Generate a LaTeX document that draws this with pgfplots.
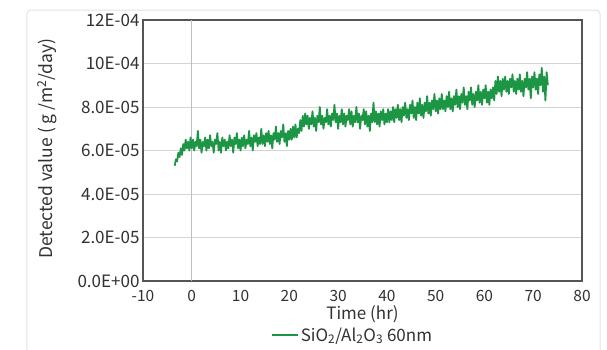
\documentclass[border=0pt]{standalone}
\usepackage{fontspec}
\setmainfont{Noto Sans CJK JP}
\usepackage{graphicx}
\usepackage{pgfplots}
\usepackage{pgfplotstable}
\pgfplotsset{compat=1.18}
\definecolor{series}{RGB}{28,150,68}
\definecolor{framec}{RGB}{85,85,85}
\definecolor{gridc}{RGB}{212,212,212}
\definecolor{txt}{RGB}{50,50,50}

% y in units of 1E-05 g/m2/day
\pgfplotstableread{
x y
-3.5 5.3
-3.25 5.6
-3.0 5.5
-2.75 5.9
-2.5 5.7
-2.25 6.1
-2.0 5.8
-1.75 6.3
-1.5 6.0
-1.25 6.5
-1.0 6.1
-0.75 6.4
-0.5 6.0
-0.25 6.6
0.0 6.1
0.25 6.5
0.5 6.0
0.75 6.4
1.0 6.2
1.25 6.9
1.5 6.1
1.75 6.5
2.0 5.9
2.25 6.4
2.5 6.2
2.75 6.6
3.0 6.0
3.25 6.5
3.5 6.1
3.75 6.7
4.0 6.2
4.25 6.4
4.5 5.9
4.75 6.5
5.0 6.3
5.25 6.8
5.5 6.0
5.75 6.4
6.0 5.9
6.25 6.6
6.5 6.2
6.75 6.5
7.0 6.0
7.25 6.4
7.5 6.1
7.75 6.7
8.0 6.2
8.25 6.5
8.5 5.9
8.75 6.6
9.0 6.3
9.25 6.8
9.5 6.1
9.75 6.5
10.0 6.0
10.25 6.6
10.5 6.2
10.75 6.7
11.0 6.1
11.25 6.5
11.5 6.3
11.75 6.9
12.0 6.2
12.25 6.6
12.5 6.0
12.75 6.7
13.0 6.4
13.25 6.8
13.5 6.2
13.75 6.6
14.0 6.3
14.25 7.0
14.5 6.3
14.75 6.7
15.0 6.2
15.25 6.8
15.5 6.4
15.75 6.9
16.0 6.3
16.25 6.7
16.5 6.1
16.75 6.8
17.0 6.5
17.25 7.1
17.5 6.4
17.75 6.8
18.0 6.3
18.25 6.9
18.5 6.6
18.75 7.2
19.0 6.4
19.25 6.8
19.5 6.2
19.75 6.9
20.0 6.5
20.25 7.0
20.5 6.5
20.75 7.1
21.0 6.6
21.25 7.2
21.5 6.6
21.75 7.0
22.0 6.8
22.25 7.4
22.5 6.9
22.75 7.6
23.0 7.1
23.25 7.7
23.5 7.2
23.75 7.6
24.0 7.0
24.25 7.5
24.5 7.2
24.75 7.8
25.0 7.1
25.25 7.5
25.5 6.9
25.75 7.6
26.0 7.3
26.25 8.0
26.5 7.2
26.75 7.6
27.0 7.0
27.25 7.5
27.5 7.3
27.75 7.9
28.0 7.2
28.25 7.6
28.5 7.1
28.75 7.7
29.0 7.4
29.25 8.1
29.5 7.3
29.75 7.7
30.0 7.0
30.25 7.6
30.5 7.3
30.75 7.9
31.0 7.2
31.25 7.7
31.5 7.1
31.75 7.6
32.0 7.4
32.25 7.9
32.5 7.2
32.75 7.8
33.0 7.1
33.25 7.6
33.5 7.3
33.75 8.0
34.0 7.3
34.25 7.7
34.5 7.0
34.75 7.6
35.0 7.4
35.25 7.9
35.5 7.2
35.75 7.8
36.0 7.1
36.25 7.6
36.5 6.9
36.75 7.7
37.0 7.3
37.25 8.2
37.5 7.3
37.75 7.8
38.0 7.2
38.25 7.7
38.5 7.1
38.75 7.8
39.0 7.4
39.25 7.9
39.5 7.2
39.75 7.7
40.0 7.3
40.25 7.9
40.5 7.3
40.75 7.8
41.0 7.4
41.25 8.0
41.5 7.3
41.75 7.9
42.0 7.5
42.25 8.1
42.5 7.4
42.75 7.9
43.0 7.3
43.25 8.0
43.5 7.6
43.75 8.2
44.0 7.5
44.25 7.9
44.5 7.4
44.75 8.1
45.0 7.7
45.25 8.3
45.5 7.5
45.75 8.0
46.0 7.4
46.25 8.2
46.5 7.7
46.75 8.4
47.0 7.6
47.25 8.1
47.5 7.5
47.75 8.2
48.0 7.8
48.25 8.5
48.5 7.7
48.75 8.2
49.0 7.6
49.25 8.3
49.5 7.9
49.75 8.6
50.0 7.8
50.25 8.3
50.5 7.7
50.75 8.4
51.0 7.9
51.25 8.6
51.5 7.9
51.75 8.3
52.0 7.8
52.25 8.5
52.5 8.0
52.75 8.7
53.0 7.9
53.25 8.4
53.5 7.8
53.75 8.5
54.0 8.1
54.25 8.8
54.5 8.0
54.75 8.5
55.0 7.9
55.25 8.6
55.5 8.2
55.75 8.9
56.0 8.1
56.25 8.5
56.5 7.9
56.75 8.7
57.0 8.3
57.25 8.9
57.5 8.1
57.75 8.6
58.0 8.0
58.25 8.7
58.5 8.3
58.75 9.0
59.0 8.2
59.25 8.7
59.5 8.1
59.75 8.8
60.0 8.4
60.25 9.0
60.5 8.2
60.75 8.7
61.0 8.1
61.25 8.8
61.5 8.4
61.75 8.9
62.0 8.3
62.25 9.2
62.5 8.6
62.75 9.4
63.0 8.7
63.25 9.2
63.5 8.5
63.75 9.3
64.0 8.8
64.25 9.4
64.5 8.7
64.75 9.2
65.0 8.6
65.25 9.3
65.5 8.9
65.75 9.5
66.0 8.7
66.25 9.2
66.5 8.6
66.75 9.3
67.0 8.8
67.25 9.5
67.5 8.7
67.75 9.2
68.0 8.5
68.25 9.3
68.5 8.9
68.75 9.6
69.0 8.8
69.25 9.3
69.5 8.4
69.75 9.4
70.0 8.9
70.25 9.6
70.5 8.8
70.75 9.3
71.0 8.6
71.25 9.5
71.5 9.0
71.75 9.8
72.0 8.7
72.25 9.4
72.5 8.3
72.75 9.6
73.0 9.0
}\datatable

\begin{document}
\begin{tikzpicture}[font=\fontsize{15.5}{18}\selectfont]
\useasboundingbox (-143pt,-68pt) rectangle (464pt,281pt);
\fill[white] (-143pt,-68pt) rectangle (464pt,281pt);
\draw[gray!22, line width=1pt, rounded corners=4pt] (-116pt,-90pt) rectangle (457pt,271pt);
\begin{axis}[
  at={(0pt,0pt)}, anchor=south west,
  width=439pt, height=261pt, scale only axis,
  xmin=-10, xmax=80, ymin=0, ymax=12,
  xtick={-10,0,...,80},
  ytick={0,2,...,12},
  yticklabels={0.0E+00,2.0E-05,4.0E-05,6.0E-05,8.0E-05,10E-04,12E-04},
  /pgf/number format/assume math mode=true,
  ymajorgrids,
  grid style={gridc, line width=0.8pt},
  extra x ticks={0},
  extra x tick labels={},
  extra x tick style={xmajorgrids=true, major grid style={gray!50, line width=0.8pt}},
  axis line style={framec, line width=1.5pt},
  major tick length=0pt,
  tick label style={text=txt},
  yticklabel style={font=\fontsize{17}{19}\selectfont, xshift=0pt},
  xticklabel style={yshift=-6pt},
  xlabel={Time (hr)},
  ylabel={Detected value ( g /m\kern-0.5pt\textsuperscript{2}/day)},
  label style={text=txt},
  xlabel style={font=\fontsize{17}{19}\selectfont, at={(axis description cs:0.5,-0.126)}, anchor=center},
  ylabel style={font=\fontsize{17.5}{19}\selectfont, at={(axis description cs:-0.2187,0.507)}, anchor=center},
  legend style={font=\fontsize{17}{19}\selectfont, at={(axis description cs:0.477,-0.207)}, anchor=center, draw=none, fill=none, text=txt},
  legend image code/.code={\draw[series, line width=2pt] (0pt,0pt) -- (26pt,0pt);},
]
\addplot[series, line width=1.8pt, line join=round] table[x=x, y=y] {\datatable};
\addlegendentry{SiO\textsubscript{2}/Al\textsubscript{2}O\textsubscript{3} 60nm}
\end{axis}
\end{tikzpicture}
\end{document}
